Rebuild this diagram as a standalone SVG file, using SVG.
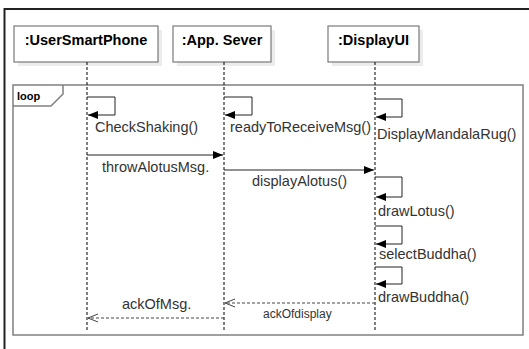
<svg xmlns="http://www.w3.org/2000/svg" width="529" height="349" viewBox="0 0 529 349">
<defs>
<style>
.head{fill:#fff;stroke:#7a7a7a;stroke-width:1.2}
.shadow{fill:#ececec}
.htxt{font-family:"Liberation Sans",Arial,sans-serif;font-weight:bold;font-size:14.5px;fill:#000}
.lbl{font-family:"Liberation Sans",Arial,sans-serif;font-size:14.5px;fill:#333}
.small{font-family:"Liberation Sans",Arial,sans-serif;font-size:12px;fill:#333}
.life{stroke:#000;stroke-width:1;stroke-dasharray:3,2;fill:none}
.msg{stroke:#222;stroke-width:1;fill:none}
.ret{stroke:#444;stroke-width:1;stroke-dasharray:3,2;fill:none}
.frame{stroke:#808080;stroke-width:1.5;fill:none}
</style>
<marker id="fill" markerWidth="11" markerHeight="8" refX="10" refY="4" orient="auto" markerUnits="userSpaceOnUse">
<path d="M0,0 L10,4 L0,8 Z" fill="#000"/>
</marker>
<marker id="open" markerWidth="11" markerHeight="10" refX="10" refY="5" orient="auto" markerUnits="userSpaceOnUse">
<path d="M0,1 L10,5 L0,9" fill="none" stroke="#444" stroke-width="1"/>
</marker>
</defs>
<rect width="529" height="349" fill="#fff"/>
<path d="M4.5,349 V9 H529" fill="none" stroke="#222" stroke-width="2"/>

<g id="loop">
<rect class="frame" x="13" y="85" width="510" height="250"/>
<path class="frame" d="M13,106 H51 L63,94 V85"/>
<text x="17" y="100" font-family="'Liberation Sans',Arial,sans-serif" font-weight="bold" font-size="11px" fill="#000">loop</text>
</g>

<g id="UserSmartPhone">
<rect class="shadow" x="18" y="30" width="144" height="36"/>
<rect class="head" x="14" y="26" width="144" height="36"/>
<text class="htxt" x="86" y="44.5" text-anchor="middle">:UserSmartPhone</text>
<line class="life" x1="87" y1="62" x2="87" y2="332"/>
</g>

<g id="AppSever">
<rect class="shadow" x="177" y="30" width="98" height="36"/>
<rect class="head" x="173" y="26" width="98" height="36"/>
<text class="htxt" x="222" y="44.5" text-anchor="middle">:App. Sever</text>
<line class="life" x1="224" y1="62" x2="224" y2="332"/>
</g>

<g id="DisplayUI">
<rect class="shadow" x="332" y="30" width="91" height="36"/>
<rect class="head" x="328" y="26" width="91" height="36"/>
<text class="htxt" x="373.5" y="44.5" text-anchor="middle">:DisplayUI</text>
<line class="life" x1="375" y1="62" x2="375" y2="332"/>
</g>

<g id="connectors">
<path class="msg" d="M87,97 H115 V115 H88" marker-end="url(#fill)"/>
<text class="lbl" x="95" y="132">CheckShaking()</text>
<path class="msg" d="M224,97 H252 V115 H225" marker-end="url(#fill)"/>
<text class="lbl" x="230" y="132">readyToReceiveMsg()</text>
<path class="msg" d="M375,99 H402 V117 H376" marker-end="url(#fill)"/>
<text class="lbl" x="377" y="139">DisplayMandalaRug()</text>
<path class="msg" d="M87,155 H223" marker-end="url(#fill)"/>
<text class="lbl" x="102" y="172">throwAlotusMsg.</text>
<path class="msg" d="M224,170 H374" marker-end="url(#fill)"/>
<text class="lbl" x="252" y="186">displayAlotus()</text>
<path class="msg" d="M375,177 H402 V197 H376" marker-end="url(#fill)"/>
<text class="lbl" x="378" y="216">drawLotus()</text>
<path class="msg" d="M375,226 H402 V244 H376" marker-end="url(#fill)"/>
<text class="lbl" x="379" y="259">selectBuddha()</text>
<path class="msg" d="M375,267 H402 V284 H376" marker-end="url(#fill)"/>
<text class="lbl" x="378" y="302">drawBuddha()</text>
<path class="ret" d="M375,303 H225" marker-end="url(#open)"/>
<text class="small" x="263" y="318">ackOfdisplay</text>
<path class="ret" d="M224,318 H88" marker-end="url(#open)"/>
<text class="lbl" x="122" y="309">ackOfMsg.</text>
</g>
</svg>
